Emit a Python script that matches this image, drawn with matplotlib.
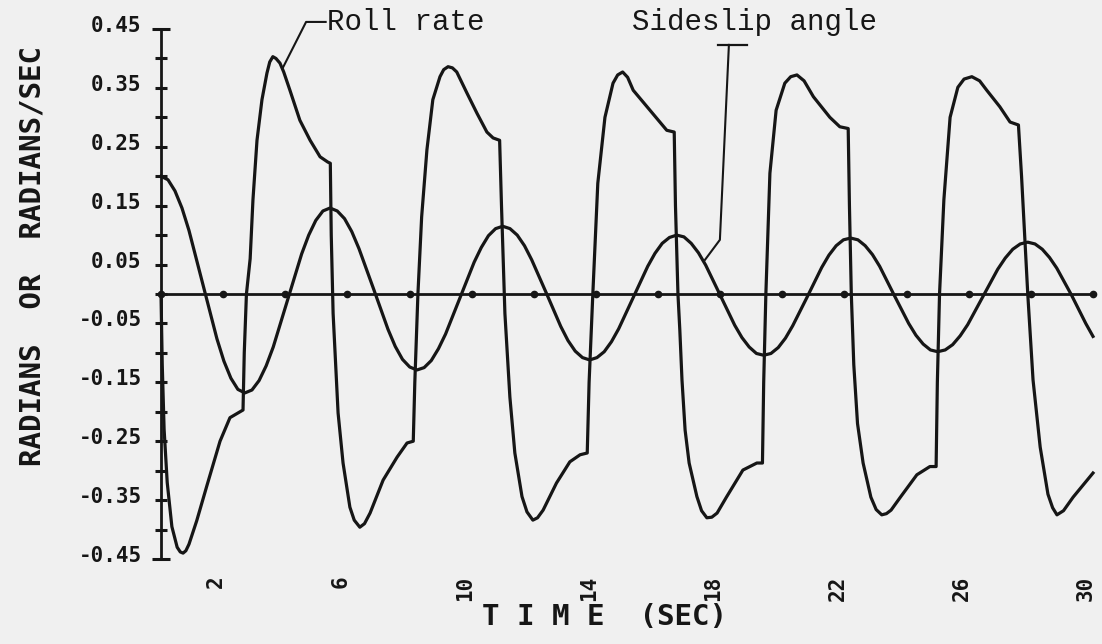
import matplotlib
matplotlib.use("Agg")
import matplotlib.pyplot as plt
import matplotlib.transforms as mtransforms

# ---------------- data ----------------
slip_t = [0.0, 0.225, 0.45, 0.675, 0.90, 1.35, 1.80, 2.025, 2.25, 2.475,
          2.70, 2.928, 3.157, 3.385, 3.613, 4.07, 4.527, 4.755, 4.983, 5.212,
          5.44, 5.673, 5.907, 6.14, 6.373, 6.84, 7.307, 7.54, 7.773, 8.007,
          8.24, 8.47, 8.70, 8.93, 9.16, 9.62, 10.08, 10.31, 10.54, 10.77,
          11.0, 11.233, 11.467, 11.70, 11.933, 12.4, 12.867, 13.10, 13.333, 13.567,
          13.8, 14.033, 14.267, 14.50, 14.733, 15.2, 15.667, 15.90, 16.133, 16.367,
          16.6, 16.833, 17.067, 17.30, 17.533, 18.0, 18.467, 18.70, 18.933, 19.167,
          19.4, 19.633, 19.867, 20.10, 20.333, 20.8, 21.267, 21.50, 21.733, 21.967,
          22.2, 22.433, 22.667, 22.90, 23.133, 23.6, 24.067, 24.30, 24.533, 24.767,
          25.0, 25.242, 25.483, 25.725, 25.967, 26.45, 26.933, 27.175, 27.417, 27.658,
          27.9, 28.133, 28.367, 28.60, 28.833, 29.3, 29.767, 30.0]
slip_v = [0.200, 0.194, 0.175, 0.146, 0.108, 0.016, -0.076, -0.114, -0.143, -0.162,
          -0.168, -0.163, -0.147, -0.122, -0.090, -0.011, 0.068, 0.100, 0.125, 0.141,
          0.146, 0.141, 0.128, 0.106, 0.077, 0.009, -0.060, -0.089, -0.111, -0.124,
          -0.129, -0.125, -0.113, -0.093, -0.068, -0.007, 0.054, 0.079, 0.099, 0.111,
          0.115, 0.111, 0.100, 0.082, 0.058, 0.002, -0.055, -0.079, -0.097, -0.108,
          -0.112, -0.108, -0.098, -0.081, -0.059, -0.006, 0.047, 0.069, 0.086, 0.096,
          0.100, 0.097, 0.086, 0.070, 0.049, -0.002, -0.053, -0.074, -0.090, -0.101,
          -0.104, -0.101, -0.091, -0.075, -0.054, -0.005, 0.045, 0.066, 0.082, 0.092,
          0.095, 0.092, 0.082, 0.067, 0.047, -0.002, -0.050, -0.070, -0.085, -0.095,
          -0.098, -0.095, -0.086, -0.071, -0.052, -0.005, 0.042, 0.061, 0.076, 0.085,
          0.088, 0.085, 0.076, 0.062, 0.044, -0.001, -0.050, -0.072]

roll_t = [0.00, 0.04, 0.10, 0.20, 0.35, 0.52, 0.62, 0.71, 0.80, 0.90, 1.15,
          1.48, 1.90, 2.22, 2.54, 2.64, 2.68, 2.75, 2.87, 2.96, 3.09, 3.25,
          3.41, 3.50, 3.60, 3.70, 3.83, 3.95, 4.15, 4.47, 4.80, 5.12, 5.37,
          5.45, 5.48, 5.54, 5.70, 5.86, 6.08, 6.22, 6.40, 6.55, 6.73, 7.15,
          7.60, 7.92, 8.12, 8.17, 8.27, 8.39, 8.56, 8.75, 8.98, 9.10, 9.24,
          9.38, 9.52, 9.85, 10.17, 10.49, 10.69, 10.90, 10.96, 11.07, 11.23,
          11.39, 11.62, 11.78, 11.97, 12.12, 12.30, 12.73, 13.16, 13.49,
          13.72, 13.78, 13.90, 14.06, 14.29, 14.55, 14.70, 14.86, 15.02,
          15.20, 15.74, 16.28, 16.52, 16.56, 16.64, 16.70, 16.77, 16.87,
          17.00, 17.25, 17.40, 17.57, 17.73, 17.90, 18.20, 18.73, 19.18,
          19.36, 19.40, 19.47, 19.60, 19.80, 20.08, 20.27, 20.47, 20.70,
          21.00, 21.53, 21.85, 22.12, 22.16, 22.22, 22.30, 22.42, 22.60,
          22.85, 23.02, 23.20, 23.35, 23.50, 23.80, 24.33, 24.75, 24.95,
          24.99, 25.06, 25.20, 25.40, 25.65, 25.85, 26.10, 26.35, 26.58,
          27.00, 27.33, 27.60, 27.70, 27.80, 27.90, 28.07, 28.30, 28.55,
          28.70, 28.84, 29.05, 29.36, 30.00]
roll_v = [0.000, -0.120, -0.230, -0.320, -0.395, -0.430, -0.438, -0.440,
          -0.436, -0.425, -0.385, -0.325, -0.250, -0.210, -0.200, -0.197,
          -0.100, 0.000, 0.060, 0.160, 0.261, 0.330, 0.375, 0.394, 0.403,
          0.400, 0.392, 0.377, 0.346, 0.295, 0.261, 0.233, 0.224, 0.222,
          0.100, -0.033, -0.202, -0.287, -0.362, -0.384, -0.396, -0.390,
          -0.372, -0.316, -0.277, -0.253, -0.250, -0.150, 0.000, 0.131,
          0.245, 0.330, 0.369, 0.381, 0.386, 0.384, 0.377, 0.341, 0.307,
          0.275, 0.265, 0.261, 0.150, -0.033, -0.175, -0.270, -0.344,
          -0.370, -0.384, -0.380, -0.367, -0.321, -0.285, -0.273, -0.270,
          -0.150, 0.000, 0.188, 0.300, 0.358, 0.372, 0.377, 0.368, 0.346,
          0.312, 0.278, 0.275, 0.150, 0.000, -0.061, -0.146, -0.231, -0.287,
          -0.344, -0.368, -0.380, -0.379, -0.372, -0.345, -0.299, -0.287,
          -0.287, -0.150, 0.000, 0.205, 0.312, 0.358, 0.369, 0.372, 0.362,
          0.335, 0.300, 0.284, 0.281, 0.150, 0.000, -0.120, -0.220, -0.287,
          -0.345, -0.366, -0.375, -0.373, -0.367, -0.345, -0.307, -0.293,
          -0.293, -0.150, 0.000, 0.160, 0.300, 0.351, 0.365, 0.369, 0.362,
          0.346, 0.318, 0.292, 0.287, 0.200, 0.100, 0.000, -0.146, -0.260,
          -0.340, -0.363, -0.375, -0.368, -0.345, -0.304]

ytick_major = [0.45, 0.35, 0.25, 0.15, 0.05, -0.05, -0.15, -0.25, -0.35, -0.45]
ytick_minor = [0.40, 0.30, 0.20, 0.10, 0.00, -0.10, -0.20, -0.30, -0.40]
ytick_labels = ["0.45", "0.35", "0.25", "0.15", "0.05",
                "-0.05", "-0.15", "-0.25", "-0.35", "-0.45"]
xtick_vals = [2, 6, 10, 14, 18, 22, 26, 30]
xtick_labels = ["2", "6", "10", "14", "18", "22", "26", "30"]
axis_dots = [0, 2, 4, 6, 8, 10, 12, 14, 16, 18, 20, 22, 24, 26, 28, 30]

# ---------------- style ----------------
BG = "#f0f0f0"
INK = "#161616"
PLOT = "DejaVu Sans Mono"
TYPE = "Liberation Mono"

fig = plt.figure(figsize=(11.02, 6.44), dpi=100, facecolor=BG)
ax = fig.add_axes([161 / 1102, 1 - 559 / 644, 932 / 1102, 530 / 644])
ax.set_facecolor(BG)
ax.set_xlim(0, 30)
ax.set_ylim(-0.45, 0.45)
for s in ("top", "right", "bottom"):
    ax.spines[s].set_visible(False)
ax.spines["left"].set_linewidth(2.0)
ax.spines["left"].set_color(INK)

# y ticks
ax.set_yticks(ytick_major)
ax.set_yticklabels(ytick_labels)
ax.set_yticks(ytick_minor, minor=True)
ax.tick_params(axis="y", which="both", direction="inout", length=9,
               width=2.2, color=INK, pad=9.5)
for lab in ax.get_yticklabels():
    lab.set_fontfamily(PLOT)
    lab.set_fontweight("bold")
    lab.set_fontsize(15)
    lab.set_color(INK)
    lab.set_transform(lab.get_transform() +
                      mtransforms.ScaledTranslation(0, 0.05, fig.dpi_scale_trans))
maj = ax.yaxis.get_major_ticks()
for tk in (maj[0], maj[-1]):
    tk.tick1line.set_markersize(13)

# x ticks (labels only)
ax.set_xticks(xtick_vals)
ax.set_xticklabels(xtick_labels)
ax.tick_params(axis="x", length=0, pad=12)
for lab in ax.get_xticklabels():
    lab.set_rotation(90)
    lab.set_fontfamily(PLOT)
    lab.set_fontweight("bold")
    lab.set_fontsize(15)
    lab.set_color(INK)
    lab.set_va("top")
    lab.set_transform(lab.get_transform() +
                      mtransforms.ScaledTranslation(-0.07, 0, fig.dpi_scale_trans))

# zero line with time dots
ax.plot(axis_dots, [0.0] * len(axis_dots), "-", color=INK, lw=2.0,
        marker="o", ms=4.5, clip_on=False, zorder=2)

# curves
ax.plot(slip_t, slip_v, color=INK, lw=2.3, solid_joinstyle="round",
        clip_on=False, zorder=3)
ax.plot(roll_t, roll_v, color=INK, lw=2.3, solid_joinstyle="round",
        clip_on=False, zorder=3)

# annotations
ax.text(5.34, 0.448, "Roll rate", family=TYPE, fontsize=21, color=INK,
        ha="left", va="baseline")
ax.plot([5.30, 4.67, 3.93], [0.462, 0.462, 0.385], color=INK, lw=1.5,
        clip_on=False)
ax.text(15.16, 0.448, "Sideslip angle", family=TYPE, fontsize=21, color=INK,
        ha="left", va="baseline")
ax.plot([17.93, 18.86], [0.423, 0.423], color=INK, lw=1.6, clip_on=False)
ax.plot([18.28, 17.99, 17.51], [0.423, 0.092, 0.058], color=INK, lw=1.5,
        clip_on=False)

# axis titles
fig.text(33 / 1102, 1 - 256 / 644, "RADIANS  OR  RADIANS/SEC", rotation=90,
         family=PLOT, weight="bold", fontsize=21, color=INK,
         ha="center", va="center")
fig.text(604 / 1102, 1 - 617 / 644, "T I M E  (SEC)", family=PLOT,
         weight="bold", fontsize=21, color=INK, ha="center", va="center")

fig.savefig("out.png", dpi=100, facecolor=BG)
